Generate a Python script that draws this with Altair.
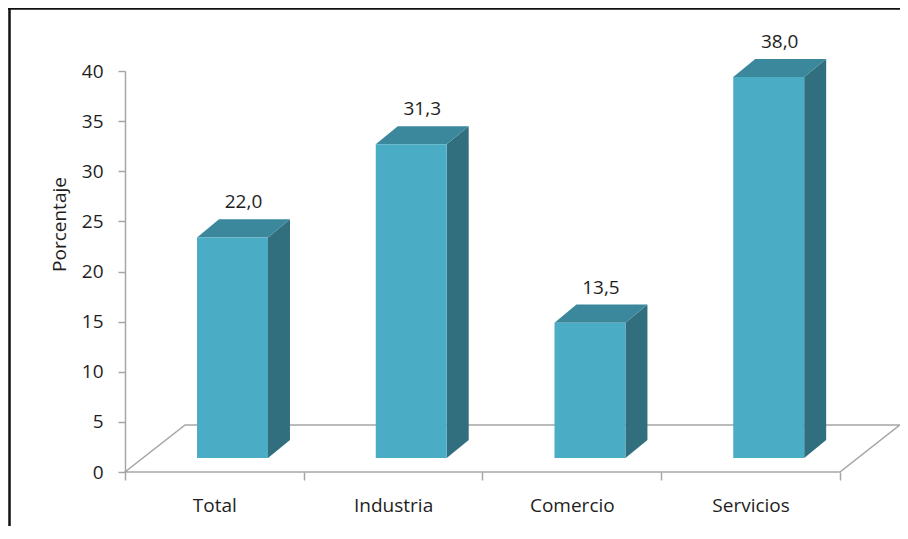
import altair as alt
import pandas as pd

# ---- data ----
categories = ["Total", "Industria", "Comercio", "Servicios"]
values = [22.0, 31.3, 13.5, 38.0]
y_ticks = [0, 5, 10, 15, 20, 25, 30, 35, 40]

# ---- 3D look geometry (in data units) ----
BAR_LEFT = 0.403   # offset of bar front face inside category slot
BAR_W = 0.397      # bar front width
DX = 0.123         # bar depth in x
DY = 1.8           # bar depth in y
BASE = 1.4         # bar base above floor front
FX = 0.336         # floor depth in x
FY = 4.7           # floor depth in y
LABEL_OFF = 1.1

FONT = "Open Sans"
FS = 19
TXT = "#1e1e1e"
FRONT = "#4BACC6"
TOP = "#3B889C"
SIDE = "#316E7E"
GRID = "#a6a6a6"

n = len(categories)
xmax = n + FX

front = pd.DataFrame({
    "cat": categories,
    "x": [i + BAR_LEFT for i in range(n)],
    "x2": [i + BAR_LEFT + BAR_W for i in range(n)],
    "y": [BASE] * n,
    "y2": [BASE + v for v in values],
})

side_rows, top_rows = [], []
for i, (c, v) in enumerate(zip(categories, values)):
    xr = i + BAR_LEFT + BAR_W
    side_rows.append({"cat": c, "x": xr, "y": BASE, "y2": BASE + v})
    side_rows.append({"cat": c, "x": xr + DX, "y": BASE + DY, "y2": BASE + DY + v})
    xl = i + BAR_LEFT
    t = BASE + v
    top_rows.append({"cat": c, "x": xl, "y": t, "y2": t})
    top_rows.append({"cat": c, "x": xl + DX, "y": t, "y2": t + DY})
    top_rows.append({"cat": c, "x": xl + BAR_W, "y": t, "y2": t + DY})
    top_rows.append({"cat": c, "x": xl + BAR_W + DX, "y": t + DY, "y2": t + DY})
side = pd.DataFrame(side_rows)
top = pd.DataFrame(top_rows)

floor = pd.DataFrame({
    "x": [0, FX, n, n + FX],
    "y": [0, 0, 0, FY],
    "y2": [0, FY, FY, FY],
})

labels = pd.DataFrame({
    "cat": categories,
    "x": [i + BAR_LEFT + (BAR_W + DX) / 2 for i in range(n)],
    "y": [BASE + DY + v + LABEL_OFF for v in values],
    "t": [f"{v:.1f}".replace(".", ",") for v in values],
})

cat_js = "[" + ",".join("'" + c + "'" for c in categories) + "]"
x_vals = [k / 2 for k in range(2 * n + 1)]


def X(field="x"):
    return alt.X(
        f"{field}:Q",
        scale=alt.Scale(domain=[0, xmax], nice=False, zero=False),
        axis=alt.Axis(
            values=x_vals,
            labelExpr=f"datum.value % 1 === 0 ? '' : {cat_js}[floor(datum.value)]",
            domain=False,
            grid=False,
            tickSize=8,
            tickWidth=1.5,
            tickColor={"condition": {"test": "datum.value % 1 === 0", "value": GRID}, "value": "transparent"},
            labelFont=FONT,
            labelFontSize=FS,
            labelColor=TXT,
            labelBaseline="alphabetic",
            labelPadding=31,
            labelOverlap=False,
            labelFlush=False,
            title=None,
        ),
    )


def Y(field="y"):
    return alt.Y(
        f"{field}:Q",
        stack=None,
        scale=alt.Scale(domain=[0, 40], nice=False, zero=False),
        axis=alt.Axis(
            values=y_ticks,
            grid=False,
            domainColor=GRID,
            domainWidth=1.5,
            tickColor=GRID,
            tickWidth=1.5,
            tickSize=7,
            labelFont=FONT,
            labelFontSize=FS,
            labelColor=TXT,
            labelPadding=15,
            title="Porcentaje",
            titleFont=FONT,
            titleFontSize=FS,
            titleFontWeight="normal",
            titleColor=TXT,
            titleX=-66,
            titleY=153,
            titleAngle=270,
            titleAlign="center",
            titleBaseline="middle",
        ),
    )


floor_layer = alt.Chart(floor).mark_area(
    orient="vertical", fill="white", stroke=GRID, strokeWidth=1.5
).encode(x=X(), y=Y(), y2="y2:Q")

front_layer = alt.Chart(front).mark_rect(color=FRONT).encode(
    x=X(), x2="x2:Q", y=Y(), y2="y2:Q"
)

side_layer = alt.Chart(side).mark_area(orient="vertical", color=SIDE).encode(
    x=X(), y=Y(), y2="y2:Q", detail="cat:N"
)

top_layer = alt.Chart(top).mark_area(orient="vertical", color=TOP).encode(
    x=X(), y=Y(), y2="y2:Q", detail="cat:N"
)

text_layer = alt.Chart(labels).mark_text(
    font=FONT, fontSize=FS, color=TXT, baseline="alphabetic", align="center"
).encode(x=X(), y=Y(), text="t:N")

frame_top = alt.Chart(pd.DataFrame({"k": [0]})).mark_rule(color="#111", strokeWidth=2.5).encode(
    x=alt.value(-117), x2=alt.value(800), y=alt.value(-62.5)
)
frame_left = alt.Chart(pd.DataFrame({"k": [0]})).mark_rule(color="#111", strokeWidth=2.5).encode(
    x=alt.value(-115.5), y=alt.value(-63), y2=alt.value(470)
)

chart = alt.layer(
    floor_layer, side_layer, top_layer, front_layer, text_layer, frame_top, frame_left
).properties(
    width=775,
    height=401,
    background="white",
    autosize=alt.AutoSizeParams(type="none"),
    padding={"left": 117, "top": 63, "right": 0, "bottom": 54},
).configure_view(stroke=None)

chart.save("out.html", embed_options={"renderer": "svg", "actions": False})
